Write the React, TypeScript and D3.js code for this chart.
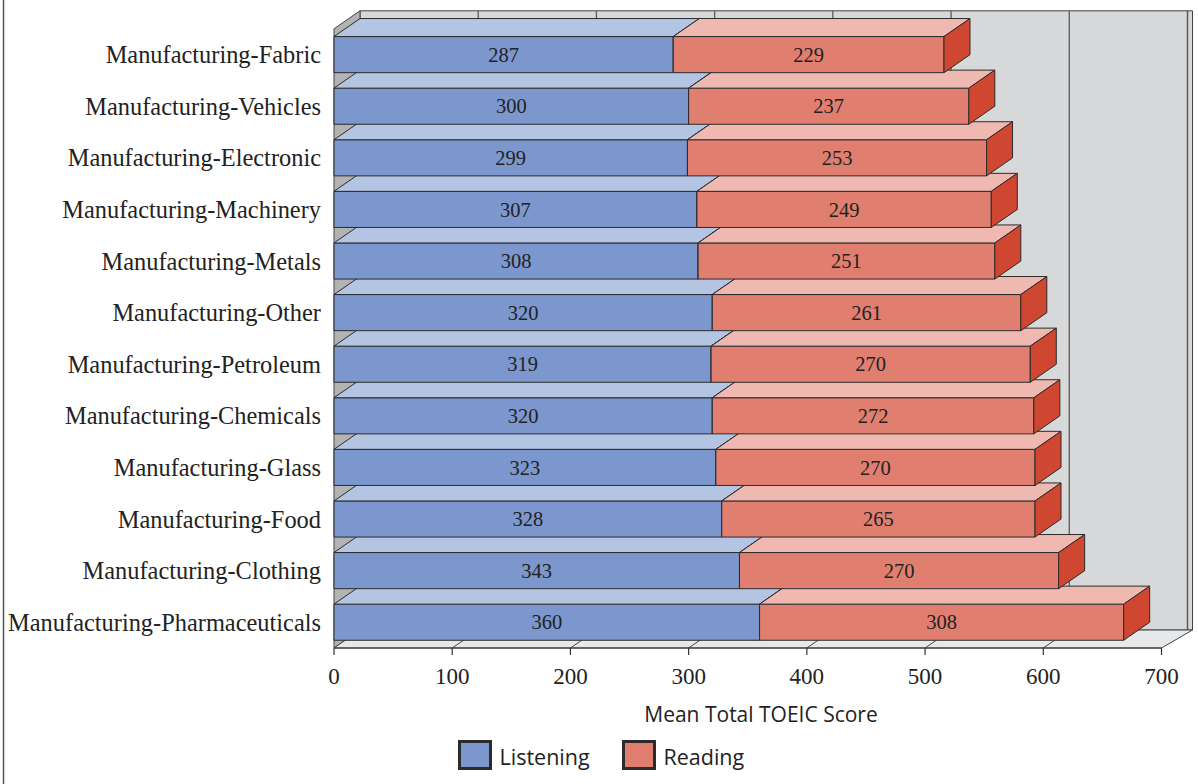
import React from "react";
import * as d3 from "d3";

const categories = [
  "Manufacturing-Fabric",
  "Manufacturing-Vehicles",
  "Manufacturing-Electronic",
  "Manufacturing-Machinery",
  "Manufacturing-Metals",
  "Manufacturing-Other",
  "Manufacturing-Petroleum",
  "Manufacturing-Chemicals",
  "Manufacturing-Glass",
  "Manufacturing-Food",
  "Manufacturing-Clothing",
  "Manufacturing-Pharmaceuticals",
];
const listening = [287, 300, 299, 307, 308, 320, 319, 320, 323, 328, 343, 360];
const reading = [229, 237, 253, 249, 251, 261, 270, 272, 270, 265, 270, 308];
const xTicks = [0, 100, 200, 300, 400, 500, 600, 700];
const seriesNames = ["Listening", "Reading"];

const W = 1198;
const H = 784;
const DX = 26; // oblique depth offset, x
const DY = 18; // oblique depth offset, y (upwards)
const FLOOR_X_EXTRA = 5;

const x = d3.scaleLinear().domain([0, 700]).range([334, 1161.5]);
const y = d3
  .scaleBand<string>()
  .domain(categories)
  .range([28.8, 648])
  .paddingInner(0.3)
  .paddingOuter(0.15);

const COLORS = {
  blue: { front: "#7b97cd", top: "#b4c5e3", side: "#5f7cb8" },
  red: { front: "#e07f70", top: "#efb9b1", side: "#cf4631" },
};
const EDGE = "#2b2b2b";
const SERIF = "'Liberation Serif', 'Times New Roman', serif";
const SANS = "'Open Sans', 'Noto Sans', sans-serif";

const pts = (p: [number, number][]) => p.map((q) => q.join(",")).join(" ");

function Box({ x0, x1, top, bottom, c }: { x0: number; x1: number; top: number; bottom: number; c: { front: string; top: string; side: string } }) {
  return (
    <g stroke={EDGE} strokeWidth={1} strokeLinejoin="round">
      <rect x={x0} y={top} width={x1 - x0} height={bottom - top} fill={c.front} />
      <polygon
        points={pts([
          [x0, top],
          [x0 + DX, top - DY],
          [x1 + DX, top - DY],
          [x1, top],
        ])}
        fill={c.top}
      />
      <polygon
        points={pts([
          [x1, top],
          [x1 + DX, top - DY],
          [x1 + DX, bottom - DY],
          [x1, bottom],
        ])}
        fill={c.side}
      />
    </g>
  );
}

export default function App() {
  const [yTop, yBot] = y.range();
  const xl = x(0);
  const xr = x(700);
  const order = d3.range(categories.length).reverse();

  return (
    <svg width={W} height={H} style={{ display: "block", position: "absolute", left: 0, top: 0 }}>
      <rect x={0} y={0} width={W} height={H} fill="#ffffff" />
      <line x1={3.5} y1={0} x2={3.5} y2={H} stroke="#555" strokeWidth={1.5} />

      {/* back wall */}
      <polygon
        points={pts([
          [xl + DX, yTop - DY],
          [xr + DX + FLOOR_X_EXTRA, yTop - DY],
          [xr + DX + FLOOR_X_EXTRA, yBot - DY],
          [xl + DX, yBot - DY],
        ])}
        fill="#d7d8da"
        stroke="#444"
        strokeWidth={1}
      />
      {xTicks.slice(1).map((t) => (
        <line
          key={"g" + t}
          x1={x(t) + DX}
          x2={x(t) + DX}
          y1={yTop - DY}
          y2={yBot - DY}
          stroke="#5a5a5a"
          strokeWidth={t === 700 ? 1.5 : 1.3}
        />
      ))}

      {/* left wall */}
      <polygon
        points={pts([
          [xl, yTop],
          [xl + DX, yTop - DY],
          [xl + DX, yBot - DY],
          [xl, yBot],
        ])}
        fill="#b3b3b3"
        stroke="#444"
        strokeWidth={1}
      />

      {/* floor */}
      <polygon
        points={pts([
          [xl, yBot],
          [xr, yBot],
          [xr + DX + FLOOR_X_EXTRA, yBot - DY],
          [xl + DX, yBot - DY],
        ])}
        fill="#e7e8ea"
        stroke="#444"
        strokeWidth={1}
      />
      {xTicks.slice(1, -1).map((t) => (
        <line key={"f" + t} x1={x(t)} y1={yBot} x2={x(t) + DX} y2={yBot - DY} stroke="#444" strokeWidth={1} />
      ))}

      {/* bars, drawn bottom row first so upper rows sit in front */}
      {order.map((i) => {
        const cat = categories[i];
        const top = y(cat)!;
        const bottom = top + y.bandwidth();
        const xa = x(0);
        const xb = x(listening[i]);
        const xc = x(listening[i] + reading[i]);
        return (
          <g key={cat}>
            <Box x0={xa} x1={xb} top={top} bottom={bottom} c={COLORS.blue} />
            <Box x0={xb} x1={xc} top={top} bottom={bottom} c={COLORS.red} />
          </g>
        );
      })}

      {/* value labels */}
      {categories.map((cat, i) => {
        const cy = y(cat)! + y.bandwidth() / 2;
        return (
          <g key={"v" + cat} fontFamily={SERIF} fontSize={20.5} fill="#222" textAnchor="middle">
            <text x={(x(0) + x(listening[i])) / 2} y={cy} dy="0.35em">
              {listening[i]}
            </text>
            <text x={(x(listening[i]) + x(listening[i] + reading[i])) / 2} y={cy} dy="0.35em">
              {reading[i]}
            </text>
          </g>
        );
      })}

      {/* category labels */}
      {categories.map((cat) => (
        <text
          key={"c" + cat}
          x={321}
          y={y(cat)! + y.bandwidth() / 2}
          dy="0.35em"
          textAnchor="end"
          fontFamily={SERIF}
          fontSize={24.4}
          fill="#222"
        >
          {cat}
        </text>
      ))}

      {/* x axis */}
      <line x1={xl} x2={xr} y1={yBot} y2={yBot} stroke="#333" strokeWidth={1.2} />
      {xTicks.map((t) => (
        <g key={"t" + t}>
          <line x1={x(t)} x2={x(t)} y1={yBot} y2={yBot + 7} stroke="#333" strokeWidth={1.2} />
          <text x={x(t)} y={684} textAnchor="middle" fontFamily={SERIF} fontSize={23} fill="#222">
            {t}
          </text>
        </g>
      ))}
      <text x={761} y={722} textAnchor="middle" fontFamily={SANS} fontSize={21} fill="#222">
        Mean Total TOEIC Score
      </text>

      {/* legend */}
      {seriesNames.map((name, k) => {
        const bx = k === 0 ? 459.5 : 623.5;
        const c = k === 0 ? COLORS.blue : COLORS.red;
        return (
          <g key={name}>
            <rect x={bx} y={741.5} width={31} height={27} fill={c.front} stroke="#2b2b2b" strokeWidth={3} />
            <text x={bx + 40} y={765} fontFamily={SANS} fontSize={21.5} fill="#222">
              {name}
            </text>
          </g>
        );
      })}
    </svg>
  );
}
